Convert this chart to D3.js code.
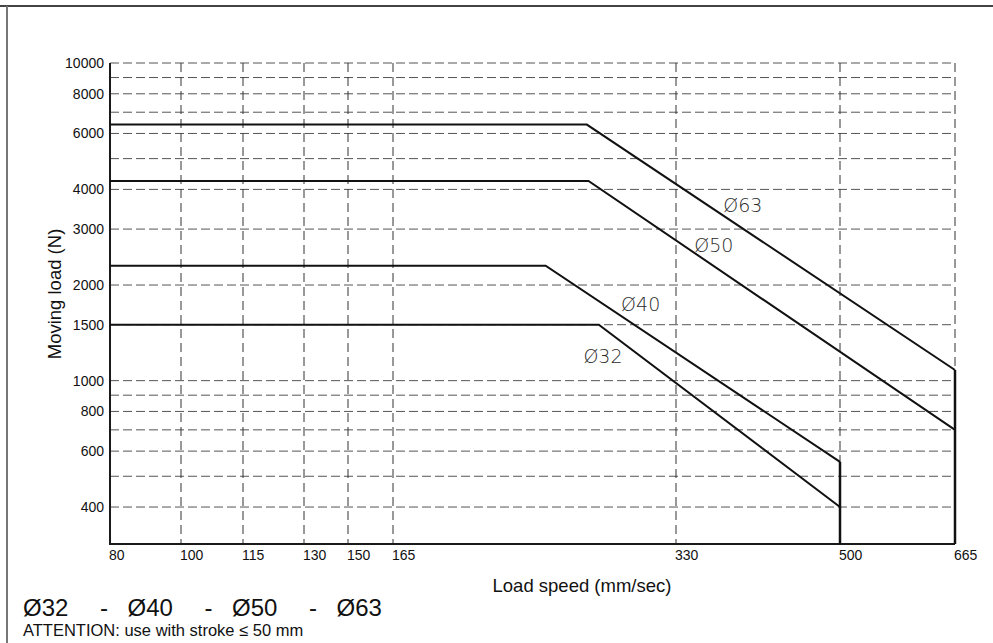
<!DOCTYPE html>
<html>
<head>
<meta charset="utf-8">
<script src="https://cdn.jsdelivr.net/npm/d3@7"></script>
<style>
  body { margin: 0; background: #fff; }
  svg { display: block; }
  text { font-family: "Liberation Sans", Arial, sans-serif; fill: #111; }
</style>
</head>
<body>
<svg id="chart" width="993" height="643"></svg>
<script>
// speed ticks (mm/sec) - the original axis is not linear, ticks are spaced by hand
var xTicks = [80, 100, 115, 130, 150, 165, 330, 500, 665];
// load ticks (N)
var yLabels = [400, 600, 800, 1000, 1500, 2000, 3000, 4000, 6000, 8000, 10000];
var yGrid = [400, 500, 600, 700, 800, 900, 1000, 1500, 2000, 3000, 4000, 5000, 6000, 7000, 8000, 9000, 10000];
var yMin = 306, yMax = 10000;

// one curve per bore: [speed, load]
var seriesNames = ["Ø63", "Ø50", "Ø40", "Ø32"];
var seriesValues = [
  [[80, 6400], [278, 6400], [665, 1080]],
  [[80, 4250], [279, 4250], [665, 700]],
  [[80, 2300], [254, 2300], [500, 555]],
  [[80, 1500], [285, 1500], [500, 400]]
];
// where each curve label sits, in chart units
var labelAt = [[379, 3400], [349, 2540], [298, 1656], [276, 1136]];

var boreList = ["Ø32", "Ø40", "Ø50", "Ø63"];
var note = "ATTENTION: use with stroke ≤ 50 mm";

var svg = d3.select("#chart");

var plot = {left: 110, right: 955, top: 63, bottom: 544};
// pixel spots of the speed ticks along the axis
var xTickPos = [110, 181, 243, 304, 348, 393, 676, 840, 955];

var x = d3.scaleLinear().domain(xTicks).range(xTickPos);
var y = d3.scaleLog().domain([yMin, yMax]).range([plot.bottom, plot.top]);

// outer frame
svg.append("line").attr("x1", 0).attr("x2", 993).attr("y1", 6).attr("y2", 6)
  .attr("stroke", "#444").attr("stroke-width", 2);
svg.append("line").attr("x1", 7).attr("x2", 7).attr("y1", 6).attr("y2", 643)
  .attr("stroke", "#777").attr("stroke-width", 2);

// horizontal grid
svg.append("g").selectAll("line").data(yGrid).join("line")
  .attr("x1", plot.left).attr("x2", plot.right)
  .attr("y1", d => y(d)).attr("y2", d => y(d))
  .attr("stroke", "#555").attr("stroke-width", 1)
  .attr("stroke-dasharray", "9,4");

// vertical grid
svg.append("g").selectAll("line").data(xTicks.slice(1)).join("line")
  .attr("x1", d => x(d)).attr("x2", d => x(d))
  .attr("y1", plot.top).attr("y2", plot.bottom)
  .attr("stroke", "#333").attr("stroke-width", 1)
  .attr("stroke-dasharray", "9,5");

// axes as plain lines
svg.append("line").attr("x1", plot.left).attr("x2", plot.left)
  .attr("y1", plot.top).attr("y2", plot.bottom + 1)
  .attr("stroke", "#1a1a1a").attr("stroke-width", 2);
svg.append("line").attr("x1", plot.left).attr("x2", plot.right)
  .attr("y1", plot.bottom).attr("y2", plot.bottom)
  .attr("stroke", "#1a1a1a").attr("stroke-width", 2);

// y tick labels
svg.append("g").selectAll("text").data(yLabels).join("text")
  .attr("x", plot.left - 6).attr("y", d => y(d) + 5)
  .attr("text-anchor", "end").style("font-size", "14px")
  .text(d => d);

// x tick labels
svg.append("g").selectAll("text").data(xTicks).join("text")
  .attr("x", d => x(d) - 1).attr("y", 560)
  .attr("text-anchor", "start").style("font-size", "14px")
  .text(d => d);

// axis titles
svg.append("text").attr("transform", "translate(61,294) rotate(-90)")
  .attr("text-anchor", "middle").style("font-size", "18.5px")
  .text("Moving load (N)");
svg.append("text").attr("x", 582).attr("y", 592)
  .attr("text-anchor", "middle").style("font-size", "18.5px")
  .text("Load speed (mm/sec)");

// curves
var line = d3.line().x(d => x(d[0])).y(d => y(d[1]));
svg.append("g").selectAll("path").data(seriesValues).join("path")
  .attr("d", line)
  .attr("fill", "none").attr("stroke", "#111").attr("stroke-width", 2);

// closing verticals at the max speed of each group
var ends = d3.rollups(seriesValues, v => d3.max(v, s => s[s.length - 1][1]), s => s[s.length - 1][0]);
svg.append("g").selectAll("line").data(ends).join("line")
  .attr("x1", d => x(d[0])).attr("x2", d => x(d[0]))
  .attr("y1", d => y(d[1])).attr("y2", plot.bottom)
  .attr("stroke", "#111").attr("stroke-width", 2.5);

// curve labels
svg.append("g").selectAll("text").data(seriesNames).join("text")
  .attr("x", (d, i) => x(labelAt[i][0])).attr("y", (d, i) => y(labelAt[i][1]))
  .style("font-family", "'DejaVu Sans', sans-serif").style("font-weight", 200)
  .style("font-size", "19px").style("fill", "#2a2a2a")
  .text(d => d);

// bore list + note under the chart
var bores = svg.append("text").attr("y", 616).style("font-size", "24px");
boreList.forEach(function(b, i) {
  bores.append("tspan").attr("x", 23 + i * 104.5).text(b);
  if (i < boreList.length - 1)
    bores.append("tspan").attr("x", 100 + i * 104.5).text("-");
});
svg.append("text").attr("x", 23).attr("y", 636)
  .style("font-size", "16.5px").text(note);
</script>
</body>
</html>
